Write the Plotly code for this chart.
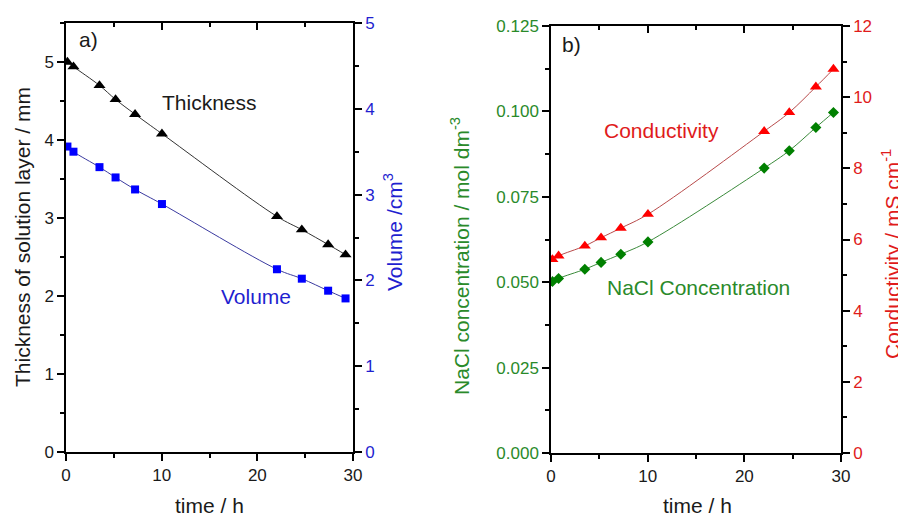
import plotly.graph_objects as go

# ---------------- data ----------------
time_h = [0.15, 0.78, 3.5, 5.18, 7.22, 10.03, 22.05, 24.65, 27.4, 29.22]
thickness_mm = [5.00, 4.94, 4.70, 4.52, 4.33, 4.08, 3.02, 2.85, 2.66, 2.53]
volume_cm3 = [3.56, 3.50, 3.32, 3.20, 3.06, 2.89, 2.13, 2.02, 1.88, 1.79]
nacl_conc = [0.0502, 0.0511, 0.0538, 0.0558, 0.0582, 0.0618, 0.0834, 0.0885, 0.0953, 0.0997]
conductivity = [5.44, 5.54, 5.82, 6.05, 6.32, 6.71, 9.04, 9.57, 10.29, 10.79]

FONT = "Liberation Sans, Arial, sans-serif"
BLACK = "#1a1a1a"
BLUE = "#0000ff"
BLUE_TXT = "#1f1fd0"
GREEN = "#008000"
GREEN_TXT = "#2a8a2a"
RED = "#ff0000"
RED_TXT = "#e01b1b"

W, H = 906, 518
OFF = 8  # the page body margin shifts the figure by this many pixels


def px(sx):
    return (sx - OFF) / W


def py(sy):
    return 1 - (sy - OFF) / H


fig = go.Figure()

fig.add_trace(go.Scatter(x=time_h, y=thickness_mm, xaxis="x", yaxis="y", mode="lines+markers",
                         line=dict(color="#333333", width=1, shape="spline"),
                         marker=dict(symbol="triangle-up", size=10.5, color="black"),
                         name="Thickness", showlegend=False))
fig.add_trace(go.Scatter(x=time_h, y=volume_cm3, xaxis="x", yaxis="y2", mode="lines+markers",
                         line=dict(color="#3a3aa0", width=1, shape="spline"),
                         marker=dict(symbol="square", size=8, color=BLUE),
                         name="Volume", showlegend=False))
fig.add_trace(go.Scatter(x=time_h, y=nacl_conc, xaxis="x2", yaxis="y3", mode="lines+markers",
                         line=dict(color="#3a8a3a", width=1, shape="spline"),
                         marker=dict(symbol="diamond", size=8.5, color=GREEN),
                         name="NaCl Concentration", showlegend=False))
fig.add_trace(go.Scatter(x=time_h, y=conductivity, xaxis="x2", yaxis="y4", mode="lines+markers",
                         line=dict(color="#b84a4a", width=1, shape="spline"),
                         marker=dict(symbol="triangle-up", size=10.5, color=RED),
                         name="Conductivity", showlegend=False))

# domains (paper fractions, from screen pixels)
dxa = [px(66), px(353)]
dya = [py(452), py(23)]
dxb = [px(551), px(841)]
dyb = [py(453), py(26)]

tickf = dict(family=FONT, size=17)


def xax(domain, anchor):
    return dict(domain=domain, anchor=anchor, range=[0, 30], tick0=0, dtick=10,
                ticks="outside", ticklen=7, tickwidth=1.5, tickcolor="black",
                minor=dict(dtick=5, ticks="outside", ticklen=4, tickwidth=1.5, tickcolor="black"),
                showline=True, linecolor="black", linewidth=1.5, showgrid=False, zeroline=False,
                tickfont=dict(tickf, color=BLACK), fixedrange=True, automargin=False)


def topax(overlay, anchor):
    return dict(overlaying=overlay, anchor=anchor, side="top", range=[0, 30], tick0=0, dtick=10,
                ticks="inside", ticklen=7, tickwidth=1.5, tickcolor="black",
                minor=dict(dtick=5, ticks="inside", ticklen=4, tickwidth=1.5, tickcolor="black"),
                showline=True, linecolor="black", linewidth=1.5, showgrid=False, zeroline=False,
                showticklabels=False, fixedrange=True, automargin=False)


def yax(rng, dtick, minor, color, side="left", overlay=None, anchor=None, domain=None, fmt=None):
    d = dict(range=rng, tick0=0, dtick=dtick, side=side,
             ticks="outside", ticklen=7, tickwidth=1.5, tickcolor="black",
             minor=dict(dtick=minor, ticks="outside", ticklen=4, tickwidth=1.5, tickcolor="black"),
             showline=True, linecolor="black", linewidth=1.5, showgrid=False, zeroline=False,
             tickfont=dict(tickf, color=color), fixedrange=True, automargin=False)
    if overlay:
        d["overlaying"] = overlay
    if anchor:
        d["anchor"] = anchor
    if domain:
        d["domain"] = domain
    if fmt:
        d["tickformat"] = fmt
    return d


fig.update_layout(
    width=W, height=H,
    autosize=False,
    margin=dict(l=0, r=0, t=0, b=0, pad=0, autoexpand=False),
    paper_bgcolor="white", plot_bgcolor="white",
    font=dict(family=FONT, color=BLACK),
    xaxis=xax(dxa, "y"),
    xaxis2=xax(dxb, "y3"),
    xaxis3=topax("x", "y"),
    xaxis4=topax("x2", "y3"),
    yaxis=yax([0, 5.5], 1, 0.5, BLACK, anchor="x", domain=dya),
    yaxis2=yax([0, 5], 1, 0.5, BLUE_TXT, side="right", overlay="y", anchor="x"),
    yaxis3=yax([0, 0.125], 0.025, 0.0125, GREEN_TXT, anchor="x2", domain=dyb, fmt=".3f"),
    yaxis4=yax([0, 12], 2, 1, RED_TXT, side="right", overlay="y3", anchor="x2"),
)

# empty traces so the top axes exist
fig.add_trace(go.Scatter(x=[], y=[], xaxis="x3", yaxis="y", showlegend=False))
fig.add_trace(go.Scatter(x=[], y=[], xaxis="x4", yaxis="y3", showlegend=False))

ann_f = 21


def ann(text, x, y, color, angle=0, size=ann_f):
    fig.add_annotation(text=text, x=px(x), y=py(y), xref="paper", yref="paper",
                       showarrow=False, textangle=angle, xanchor="center", yanchor="middle",
                       font=dict(family=FONT, size=size, color=color))


# panel labels and series labels
ann("a)", 88, 40, BLACK)
ann("Thickness", 209, 103, BLACK)
ann("Volume", 256, 296, BLUE_TXT)
ann("b)", 571, 45, BLACK)
ann("Conductivity", 661, 131, RED_TXT)
ann("NaCl Concentration", 698, 287, GREEN_TXT)

# axis titles
ann("Thickness of solution layer / mm", 22, 237, BLACK, -90)
ann("Volume /cm<sup>3</sup>", 393, 232, BLUE_TXT, -90)
ann("time / h", 209, 505, BLACK)
ann("time / h", 697, 505, BLACK)
ann("NaCl concentration / mol dm<sup>-3</sup>", 460, 256, GREEN_TXT, -90)
ann("Conductivity / mS cm<sup>-1</sup>", 891, 254, RED_TXT, -90)

fig.write_html("out.html")
